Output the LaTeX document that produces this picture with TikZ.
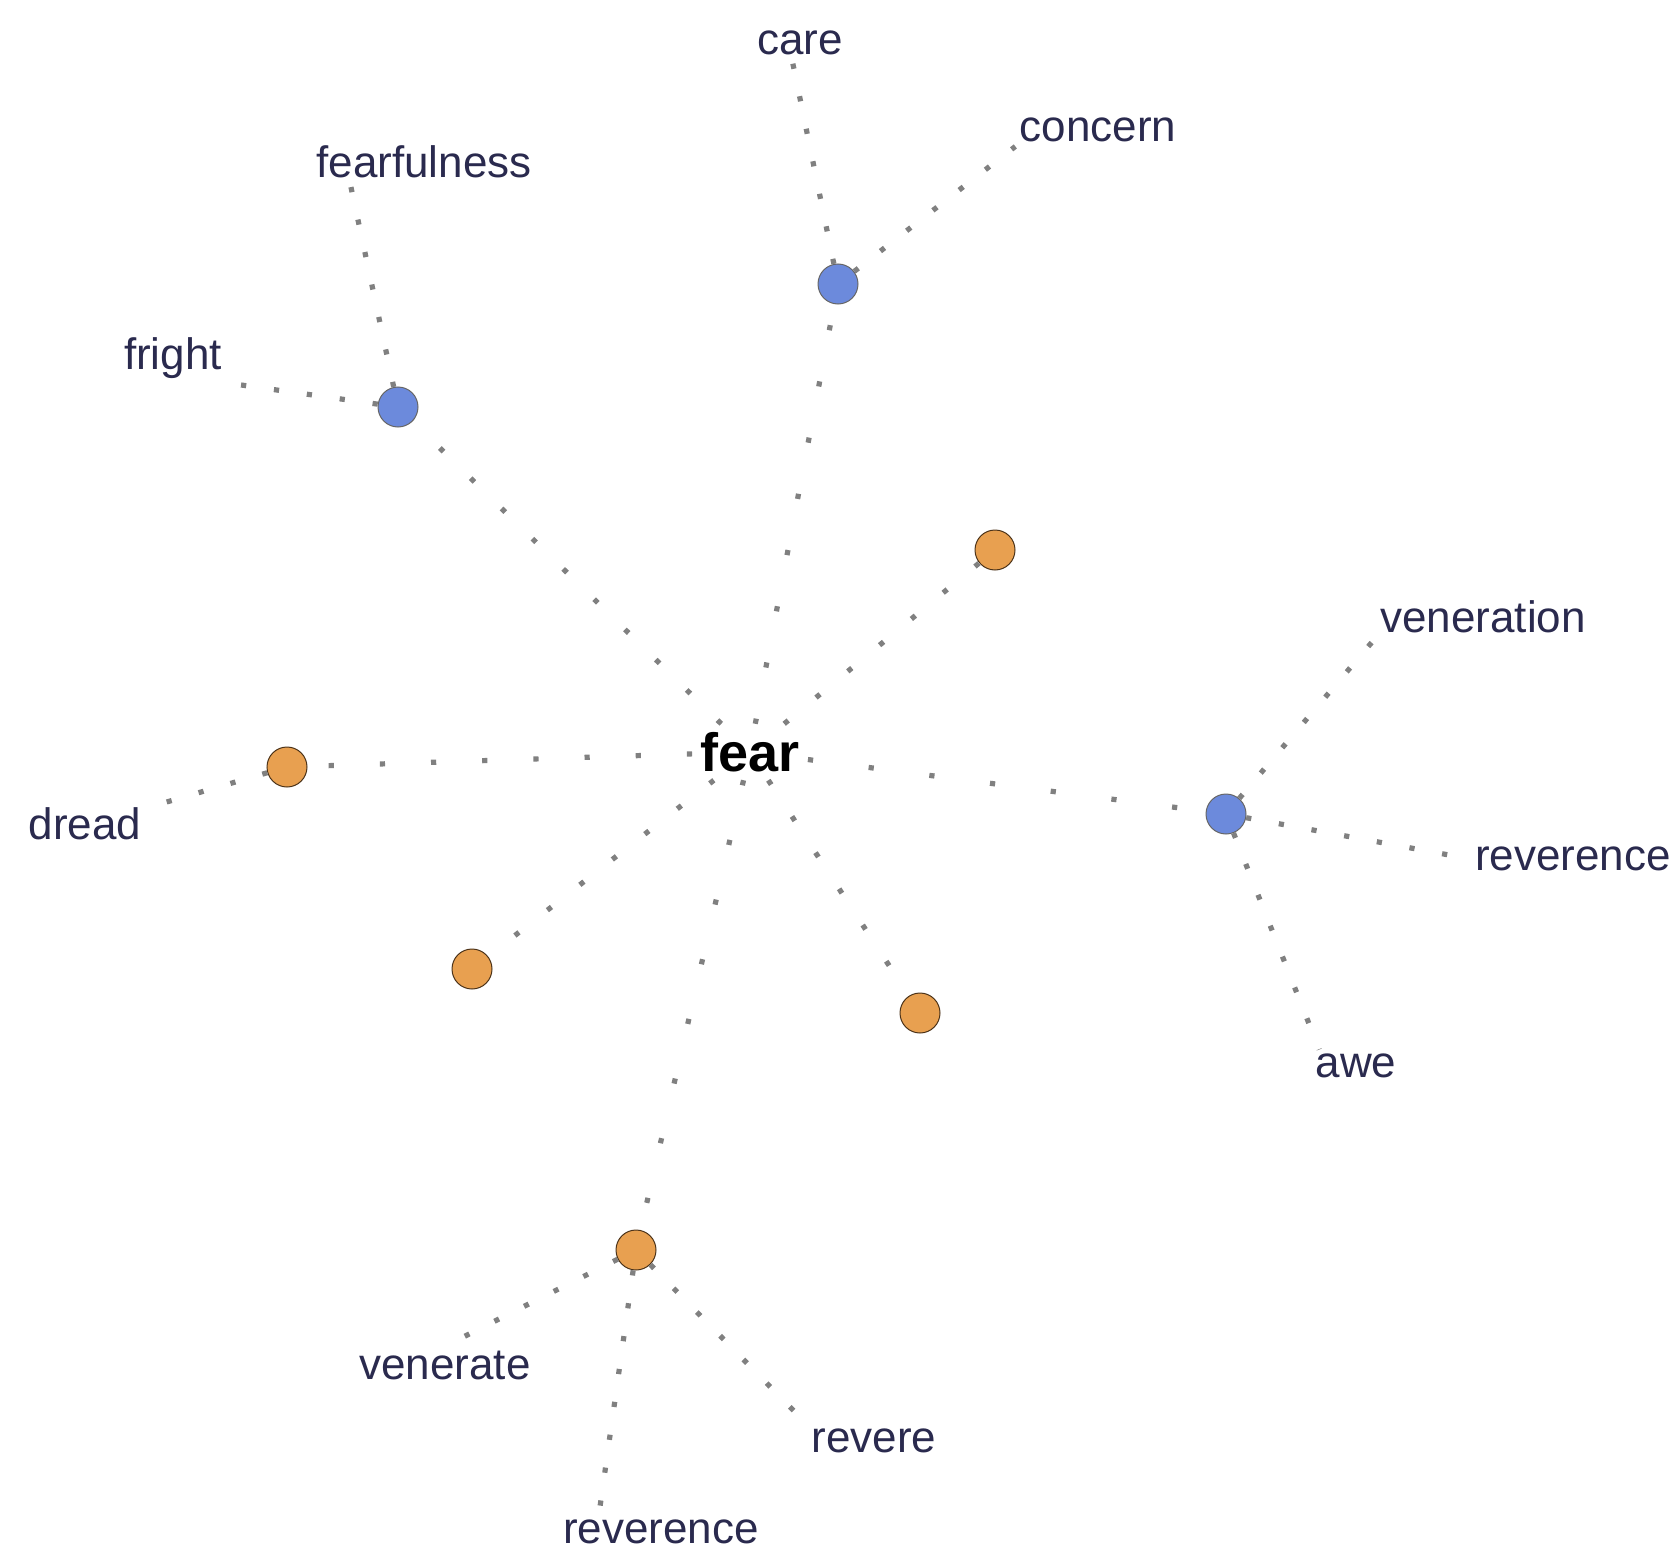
\documentclass[tikz,border=0pt]{standalone}
\usepackage{fontspec}
\setmainfont{Liberation Sans}
\usepackage{xcolor}
\usepackage{tikz}
\usetikzlibrary{positioning}

\definecolor{hubblue}{RGB}{108,138,220}
\definecolor{huborange}{RGB}{232,160,80}
\definecolor{wordink}{RGB}{42,42,78}

\begin{document}
\begin{tikzpicture}[
  x=0.5pt, y=-0.5pt,
  blue/.style={circle, draw=black!60, fill=hubblue, line width=0.5pt,
               minimum size=20pt, inner sep=0pt},
  orange/.style={circle, draw=black!60!brown, fill=huborange, line width=0.5pt,
                 minimum size=20pt, inner sep=0pt},
  word/.style={font=\fontsize{22}{24}\selectfont, text=wordink,
               inner sep=2pt},
  root/.style={font=\fontsize{27}{30}\selectfont\bfseries, text=black,
               inner sep=4pt},
  link/.style={draw=gray, line width=2.6pt, line cap=butt,
               dash pattern=on 2.6pt off #1},
  link/.default=28pt,
  twig/.style={link=14pt}
]
\useasboundingbox (0,0) rectangle (1672,1552);

\node[root]   (fear)   at (750,752)  {fear};

\node[blue]   (bT)     at (838,284)  {};
\node[blue]   (bL)     at (398,407)  {};
\node[blue]   (bR)     at (1226,814) {};
\node[orange] (oUR)    at (995,550)  {};
\node[orange] (oL)     at (287,767)  {};
\node[orange] (oLL)    at (472,969)  {};
\node[orange] (oLR)    at (920,1013) {};
\node[orange] (oB)     at (636,1250) {};

\node[word]   (care)   at (800,43)   {care};
\node[word]   (concern) at (1098,130) {concern};
\node[word]   (fearful) at (424,162) {fearfulness};
\node[word]   (fright) at (173,358)  {fright};
\node[word]   (vener)  at (1483,617) {veneration};
\node[word]   (revR)   at (1573,859) {reverence};
\node[word]   (awe)    at (1356,1066) {awe};
\node[word]   (dread)  at (85,824)   {dread};
\node[word]   (venrt)  at (445,1365) {venerate};
\node[word]   (revB)   at (661,1532) {reverence};
\node[word]   (revere) at (874,1441) {revere};

% spokes from the root
\draw[link=26pt] (fear) -- (bT);
\draw[link=19pt] (fear) -- (bL);
\draw[link=28pt] (fear) -- (bR);
\draw[link=18pt] (fear) -- (oUR);
\draw[link=23pt] (fear) -- (oL);
\draw[link=18pt] (fear) -- (oLL);
\draw[link=19pt] (fear) -- (oLR);
\draw[link=28pt] (fear) -- (oB);

% outer words
\draw[twig] (bT)  -- ([xshift=-4pt]care.south);
\draw[twig] (bT)  -- (concern.south west);
\draw[twig] (bL)  -- ([xshift=19pt]fearful.south west);
\draw[twig] (bL)  -- (fright.south east);
\draw[twig] (bR)  -- (vener.south west);
\draw[twig] (bR)  -- (revR.west);
\draw[twig] (bR)  -- ([xshift=4pt]awe.north west);
\draw[twig] (oL)  -- ([xshift=8pt]dread.north east);
\draw[twig] (oB)  -- (venrt.north);
\draw[twig] (oB)  -- ([xshift=20pt]revB.north west);
\draw[twig] (oB)  -- (revere.north west);
\end{tikzpicture}
\end{document}
